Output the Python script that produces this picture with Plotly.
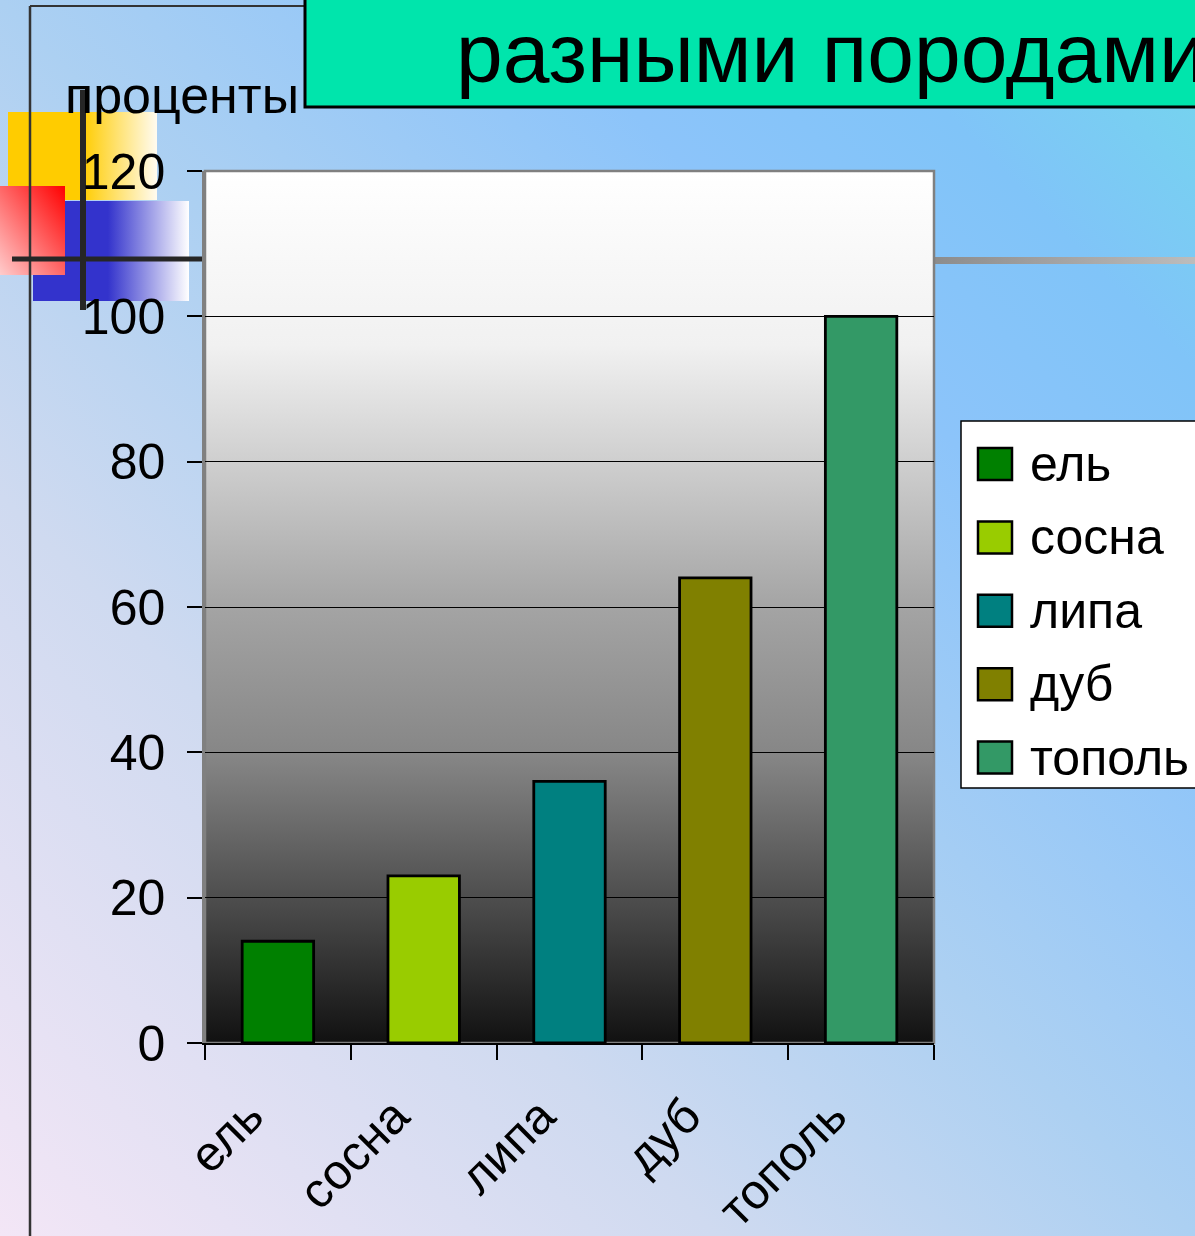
import base64
import plotly.graph_objects as go

# ---------------- data ----------------
categories = ["ель", "сосна", "липа", "дуб", "тополь"]
values = [14, 23, 36, 64, 100]
bar_colors = ["#008000", "#99CC00", "#008080", "#808000", "#339966"]
y_ticks = [0, 20, 40, 60, 80, 100, 120]
y_title = "проценты"
slide_title = "разными породами"

# ---------------- geometry helpers ----------------
W, H = 1195, 1236
L, R, T, B = 205, 934, 171, 1043          # plot area in pixels
PW, PH = R - L, B - T


def PX(x):
    return (x - L) / PW


def PY(y):
    return (B - y) / PH


def grad_uri(stops, x1=0, y1=0, x2=1, y2=0):
    st = "".join(f'<stop offset="{o}" stop-color="{c}"/>' for o, c in stops)
    svg = (
        '<svg xmlns="http://www.w3.org/2000/svg" width="100" height="100" '
        'viewBox="0 0 100 100" preserveAspectRatio="none"><defs>'
        f'<linearGradient id="g" x1="{x1}" y1="{y1}" x2="{x2}" y2="{y2}">{st}</linearGradient>'
        '</defs><rect x="0" y="0" width="100" height="100" fill="url(#g)"/></svg>'
    )
    return "data:image/svg+xml;base64," + base64.b64encode(svg.encode()).decode()


def img(uri, x0, y0, x1, y1):
    return dict(source=uri, xref="paper", yref="paper", x=PX(x0), y=PY(y0),
                sizex=PX(x1) - PX(x0), sizey=PY(y0) - PY(y1),
                xanchor="left", yanchor="top", sizing="stretch", layer="below")


def rect(x0, y0, x1, y1, fill=None, line=None, lw=0):
    return dict(type="rect", xref="paper", yref="paper", layer="below",
                x0=PX(x0), x1=PX(x1), y0=PY(y1), y1=PY(y0),
                fillcolor=fill or "rgba(0,0,0,0)",
                line=dict(color=line or "rgba(0,0,0,0)", width=lw))


def seg(x0, y0, x1, y1, color, lw):
    return dict(type="line", xref="paper", yref="paper", layer="below",
                x0=PX(x0), x1=PX(x1), y0=PY(y0), y1=PY(y1),
                line=dict(color=color, width=lw))


FONT = "Liberation Sans, Arial, sans-serif"
PAD = "\u00a0\u00a0\u00a0"   # pushes the rotated labels left/down like the original

# ---------------- figure ----------------
fig = go.Figure()
fig.add_trace(go.Bar(
    x=categories, y=values,
    marker=dict(color=bar_colors, line=dict(color="#000000", width=2.8)),
    showlegend=False, hoverinfo="x+y",
))

images = [
    # slide background
    img(grad_uri([(0, "#f3e6f6"), (0.3, "#cfdaf0"), (0.5, "#acd0f2"),
                  (0.72, "#8cc4fa"), (0.85, "#80c4f8"), (1, "#72d8ec")],
                 0, 1, 1, 0), 0, 0, W, H),
    # decorative squares
    img(grad_uri([(0, "#ffcc00"), (0.5, "#ffcc00"), (1, "#fffbf0")]), 8, 112, 157, 200),
    img(grad_uri([(0, "#3333cc"), (0.48, "#3333cc"), (1, "#ffffff")]), 33, 201, 189, 301),
    img(grad_uri([(0, "#ff0000"), (1, "#ffcccc")], 1, 0, 0, 1), 0, 186, 65, 275),
    # grey bar on the right
    img(grad_uri([(0, "#8c8c8c"), (1, "#bcbcbc")]), 934, 257, W, 264),
    # plot-area gradient
    img(grad_uri([(0, "#ffffff"), (0.2, "#f1f1f1"), (0.5, "#a4a4a4"),
                  (0.67, "#868686"), (0.85, "#484848"), (1, "#111111")],
                 0, 0, 0, 1), L, T, R, B),
]

shapes = [
    # slide frame
    seg(30, 6, 305, 6, "#333333", 2),
    seg(30, 6, 30, H + 5, "#333333", 2.5),
    # cross lines
    seg(12, 259, 205, 259, "#262626", 5),
    seg(83, 90, 83, 310, "#262626", 6),
    # title box
    rect(305, -10, W + 20, 107, fill="#00E5AC", line="#000000", lw=3),
    # plot-area border
    rect(L, T, R, B, line="#808080", lw=2.5),
]

# manual legend
LEG_X0, LEG_Y0, LEG_Y1 = 961, 421, 788
shapes.append(rect(LEG_X0, LEG_Y0, W + 20, LEG_Y1, fill="#ffffff", line="#000000", lw=1.5))
annotations = []
step = 73.4
for i, (name, col) in enumerate(zip(categories, bar_colors)):
    cy = LEG_Y0 + 43 + i * step
    shapes.append(rect(978, cy - 16, 1012, cy + 16, fill=col, line="#000000", lw=2.5))
    annotations.append(dict(text=name, xref="paper", yref="paper", x=PX(1028), y=PY(cy),
                            xanchor="left", yanchor="middle", showarrow=False,
                            font=dict(family=FONT, size=50, color="#000000")))

# texts
annotations.append(dict(text=slide_title, xref="paper", yref="paper", x=PX(454), y=PY(53),
                        xanchor="left", yanchor="middle", showarrow=False,
                        font=dict(family=FONT, size=84, color="#000000")))
annotations.append(dict(text=y_title, xref="paper", yref="paper", x=PX(63), y=PY(95),
                        xanchor="left", yanchor="middle", showarrow=False,
                        font=dict(family=FONT, size=52, color="#000000")))

fig.update_layout(
    width=W, height=H, autosize=False,
    margin=dict(l=L, r=W - R, t=T, b=H - B, pad=0, autoexpand=False),
    paper_bgcolor="#acd0f2",
    plot_bgcolor="rgba(0,0,0,0)",
    bargap=0.51,
    images=images,
    shapes=shapes,
    annotations=annotations,
    showlegend=False,
    font=dict(family=FONT, size=50, color="#000000"),
)
fig.update_xaxes(
    type="category", range=[-0.5, len(categories) - 0.5], automargin=False,
    tickmode="array", tickvals=categories, ticktext=[c + PAD for c in categories],
    tickson="boundaries", ticks="outside", ticklen=15, tickwidth=1.5, tickcolor="#000000",
    showline=True, linecolor="#000000", linewidth=1.5,
    tickangle=-45, tickfont=dict(family=FONT, size=49, color="#000000"),
    ticklabelstandoff=-6, showgrid=False, zeroline=False,
)
fig.update_yaxes(
    range=[0, 120], tickvals=y_ticks, ticktext=[str(v) for v in y_ticks], automargin=False,
    ticks="outside", ticklen=15, tickwidth=1.5, tickcolor="#000000",
    showline=True, linecolor="#808080", linewidth=2.5,
    showgrid=True, gridcolor="#000000", gridwidth=1.2, zeroline=False,
    tickfont=dict(family=FONT, size=50, color="#000000"),
    ticklabelstandoff=12,
)

fig.write_html("out.html", config={"displayModeBar": False, "responsive": False},
               post_script="document.body.style.margin='0';document.body.style.overflow='hidden';")
